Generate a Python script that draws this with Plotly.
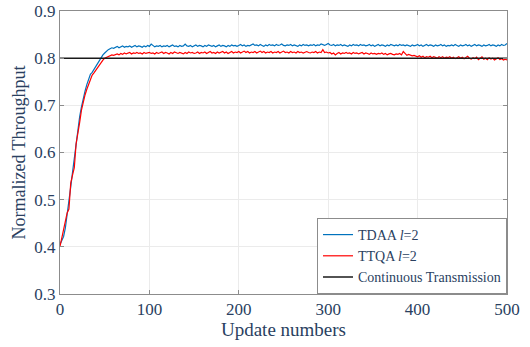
import plotly.graph_objects as go

# Update index runs 0..500 in steps of 2
tdaa = [
    0.405, 0.413, 0.422, 0.440, 0.466, 0.497, 0.527, 0.558, 0.590, 0.624,
    0.650, 0.676, 0.697, 0.716, 0.730, 0.744, 0.756, 0.766, 0.770, 0.776,
    0.783, 0.789, 0.796, 0.801, 0.807, 0.811, 0.815, 0.818, 0.820, 0.822,
    0.821, 0.823, 0.825, 0.822, 0.824, 0.826, 0.823, 0.825, 0.824, 0.826,
    0.823, 0.825, 0.827, 0.824, 0.826, 0.825, 0.823, 0.826, 0.824, 0.827,
    0.825, 0.830, 0.826, 0.824, 0.826, 0.825, 0.827, 0.824, 0.826, 0.825,
    0.827, 0.824, 0.826, 0.828, 0.825, 0.826, 0.824, 0.827, 0.825, 0.826,
    0.830, 0.826, 0.825, 0.827, 0.824, 0.826, 0.828, 0.825, 0.827, 0.826,
    0.824, 0.827, 0.825, 0.828, 0.826, 0.825, 0.827, 0.824, 0.826, 0.828,
    0.825, 0.827, 0.826, 0.824, 0.827, 0.825, 0.828, 0.826, 0.827, 0.825,
    0.827, 0.829, 0.826, 0.828, 0.825, 0.827, 0.826, 0.828, 0.830, 0.827,
    0.828, 0.826, 0.829, 0.827, 0.825, 0.828, 0.826, 0.829, 0.827, 0.828,
    0.826, 0.829, 0.827, 0.828, 0.830, 0.827, 0.826, 0.828, 0.827, 0.829,
    0.826, 0.828, 0.827, 0.825, 0.828, 0.826, 0.829, 0.827, 0.828, 0.826,
    0.828, 0.827, 0.829, 0.826, 0.828, 0.827, 0.830, 0.828, 0.827, 0.829,
    0.831, 0.828, 0.827, 0.829, 0.826, 0.828, 0.827, 0.829, 0.826, 0.828,
    0.827, 0.825, 0.828, 0.826, 0.829, 0.827, 0.828, 0.826, 0.829, 0.827,
    0.828, 0.826, 0.827, 0.829, 0.826, 0.828, 0.825, 0.827, 0.829, 0.826,
    0.828, 0.827, 0.825, 0.828, 0.826, 0.829, 0.827, 0.826, 0.828, 0.826,
    0.829, 0.827, 0.828, 0.826, 0.828, 0.827, 0.825, 0.828, 0.826, 0.827,
    0.829, 0.826, 0.828, 0.825, 0.827, 0.829, 0.826, 0.828, 0.827, 0.825,
    0.828, 0.826, 0.827, 0.829, 0.826, 0.828, 0.825, 0.827, 0.826, 0.828,
    0.826, 0.829, 0.827, 0.825, 0.828, 0.826, 0.827, 0.829, 0.826, 0.828,
    0.825, 0.827, 0.829, 0.826, 0.828, 0.827, 0.825, 0.828, 0.826, 0.827,
    0.829, 0.826, 0.828, 0.827, 0.825, 0.828, 0.826, 0.829, 0.827, 0.828,
    0.831,
]

ttqa = [
    0.401, 0.418, 0.441, 0.458, 0.472, 0.480, 0.535, 0.552, 0.568, 0.618,
    0.638, 0.664, 0.690, 0.708, 0.722, 0.734, 0.745, 0.756, 0.764, 0.769,
    0.775, 0.781, 0.787, 0.792, 0.796, 0.800, 0.802, 0.804, 0.805, 0.807,
    0.806, 0.808, 0.809, 0.807, 0.810, 0.808, 0.811, 0.809, 0.810, 0.812,
    0.809, 0.811, 0.810, 0.812, 0.810, 0.811, 0.809, 0.812, 0.810, 0.811,
    0.812, 0.810, 0.811, 0.809, 0.812, 0.810, 0.811, 0.813, 0.810, 0.812,
    0.811, 0.809, 0.812, 0.810, 0.813, 0.811, 0.810, 0.812, 0.811, 0.809,
    0.812, 0.810, 0.813, 0.811, 0.812, 0.810, 0.811, 0.813, 0.810, 0.812,
    0.811, 0.813, 0.810, 0.812, 0.814, 0.811, 0.812, 0.810, 0.813, 0.811,
    0.812, 0.814, 0.811, 0.813, 0.810, 0.812, 0.814, 0.811, 0.813, 0.812,
    0.814, 0.811, 0.813, 0.815, 0.812, 0.814, 0.811, 0.813, 0.812, 0.814,
    0.811, 0.813, 0.815, 0.812, 0.814, 0.811, 0.813, 0.812, 0.814, 0.811,
    0.813, 0.812, 0.814, 0.811, 0.813, 0.815, 0.812, 0.813, 0.811, 0.814,
    0.812, 0.813, 0.811, 0.814, 0.812, 0.813, 0.811, 0.812, 0.814, 0.812,
    0.811, 0.813, 0.812, 0.814, 0.811, 0.813, 0.812, 0.818, 0.812, 0.813,
    0.811, 0.812, 0.809, 0.811, 0.807, 0.810, 0.812, 0.809, 0.811, 0.810,
    0.812, 0.810, 0.811, 0.809, 0.812, 0.810, 0.811, 0.809, 0.810, 0.812,
    0.809, 0.811, 0.810, 0.808, 0.811, 0.809, 0.810, 0.808, 0.810, 0.809,
    0.811, 0.808, 0.810, 0.807, 0.809, 0.810, 0.808, 0.807, 0.809, 0.808,
    0.810, 0.807, 0.814, 0.809, 0.806, 0.808, 0.807, 0.805, 0.806, 0.804,
    0.803, 0.805, 0.802, 0.804, 0.801, 0.803, 0.802, 0.804, 0.801, 0.803,
    0.802, 0.800, 0.803, 0.801, 0.803, 0.800, 0.802, 0.801, 0.803, 0.800,
    0.802, 0.799, 0.801, 0.803, 0.800, 0.802, 0.799, 0.801, 0.804, 0.800,
    0.798, 0.801, 0.799, 0.802, 0.797, 0.800, 0.803, 0.798, 0.800, 0.797,
    0.801, 0.798, 0.800, 0.796, 0.799, 0.801, 0.797, 0.799, 0.796, 0.798,
    0.796,
]

continuous_x = [0, 500]
continuous_y = [0.8, 0.8]

x_ticks = [0, 100, 200, 300, 400, 500]
y_ticks = [0.3, 0.4, 0.5, 0.6, 0.7, 0.8, 0.9]

upd_tdaa = [2 * i for i in range(len(tdaa))]
upd_ttqa = [2 * i for i in range(len(ttqa))]

FONT = "Tinos, Liberation Serif"

fig = go.Figure()
fig.add_trace(go.Scatter(x=upd_tdaa, y=tdaa, mode="lines",
                         name="TDAA <i>l</i>=2",
                         line=dict(color="#0072BD", width=1.2)))
fig.add_trace(go.Scatter(x=upd_ttqa, y=ttqa, mode="lines",
                         name="TTQA <i>l</i>=2",
                         line=dict(color="#FF0000", width=1.2)))
fig.add_trace(go.Scatter(x=continuous_x, y=continuous_y, mode="lines",
                         name="Continuous Transmission",
                         line=dict(color="#1a1a1a", width=1.5)))

axis_common = dict(
    showline=True, linecolor="#8c8c8c", linewidth=1, mirror="ticks",
    ticks="inside", ticklen=4, tickcolor="#8c8c8c",
    showgrid=True, gridcolor="#ebebeb", gridwidth=1, zeroline=False,
    automargin=False,
    tickfont=dict(family=FONT, size=17),
)

fig.update_layout(
    width=530, height=347,
    margin=dict(l=60, r=23, t=11, b=53),
    paper_bgcolor="white", plot_bgcolor="white",
    xaxis=dict(range=[0, 500], tickvals=x_ticks,
               title=dict(text="Update numbers", font=dict(family=FONT, size=19), standoff=4),
               **axis_common),
    yaxis=dict(range=[0.3, 0.9], tickvals=y_ticks, tickformat=".1f",
               title=dict(text="Normalized Throughput", font=dict(family=FONT, size=18), standoff=4),
               **axis_common),
    legend=dict(x=1, y=0, xanchor="right", yanchor="bottom",
                bgcolor="white", bordercolor="#8c8c8c", borderwidth=1,
                font=dict(family=FONT, size=14),
                tracegroupgap=0, itemwidth=30),
    showlegend=True,
)

fig.write_html("out.html")
